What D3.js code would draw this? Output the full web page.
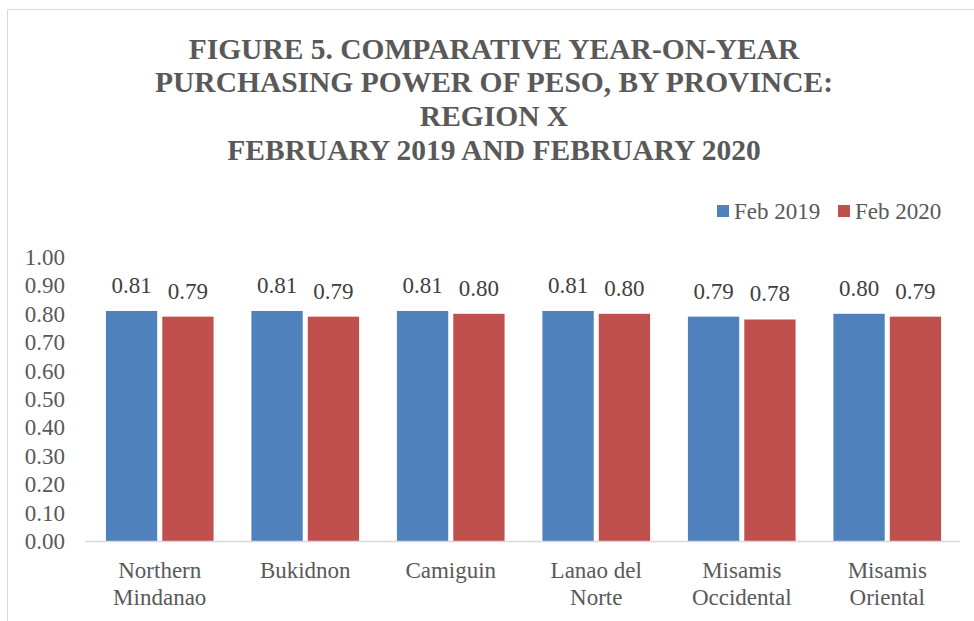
<!DOCTYPE html>
<html>
<head>
<meta charset="utf-8">
<script src="https://cdn.jsdelivr.net/npm/d3@7"></script>
<style>
  body { margin: 0; background: #fff; }
</style>
</head>
<body>
<div id="chart"></div>
<script>
const width = 974;
const height = 621;

const provinces = [
  ["Northern", "Mindanao"],
  ["Bukidnon"],
  ["Camiguin"],
  ["Lanao del", "Norte"],
  ["Misamis", "Occidental"],
  ["Misamis", "Oriental"]
];
const seriesNames = ["Feb 2019", "Feb 2020"];
const feb2019 = [0.81, 0.81, 0.81, 0.81, 0.79, 0.80];
const feb2020 = [0.79, 0.79, 0.80, 0.80, 0.78, 0.79];
const yTicks = [0, 0.1, 0.2, 0.3, 0.4, 0.5, 0.6, 0.7, 0.8, 0.9, 1.0];
const titleLines = [
  "FIGURE 5. COMPARATIVE YEAR-ON-YEAR",
  "PURCHASING POWER OF PESO, BY PROVINCE:",
  "REGION X",
  "FEBRUARY 2019 AND FEBRUARY 2020"
];

const colors = ["#4f81bd", "#c0504d"];
const textColor = "#595959";
const serif = "'Liberation Serif', 'Times New Roman', Times, serif";

const svg = d3.select("#chart")
  .append("svg")
  .attr("width", width)
  .attr("height", height)
  .attr("font-family", serif)
  .style("display", "block");

// chart area frame (cropped on right/bottom)
svg.append("path")
  .attr("d", `M7.5,${height} V9.5 H${width}`)
  .attr("fill", "none")
  .attr("stroke", "#d9d9d9")
  .attr("stroke-width", 1);

// title
svg.append("g")
  .selectAll("text")
  .data(titleLines)
  .join("text")
  .attr("x", 494)
  .attr("y", (d, i) => 58.5 + i * 33.7)
  .attr("text-anchor", "middle")
  .attr("font-size", 29.5)
  .attr("font-weight", "bold")
  .attr("fill", textColor)
  .text(d => d);

const margin = { left: 87, right: 14, top: 257, bottom: 80 };

const x0 = d3.scaleBand()
  .domain(d3.range(provinces.length))
  .range([margin.left, width - margin.right])
  .paddingInner(0.26)
  .paddingOuter(0.13);

const x1 = d3.scaleBand()
  .domain([0, 1])
  .range([0, x0.bandwidth()])
  .paddingInner(0.09);

const y = d3.scaleLinear()
  .domain([0, 1])
  .range([height - margin.bottom, margin.top]);

// y axis
const yAxis = svg.append("g")
  .attr("transform", `translate(${margin.left - 22},0)`)
  .call(d3.axisLeft(y).tickValues(yTicks).tickFormat(d3.format(".2f")).tickSize(0).tickPadding(0));
yAxis.select(".domain").remove();
yAxis.attr("font-family", serif).attr("font-size", 23);
yAxis.selectAll("text")
  .attr("fill", textColor)
  .attr("dy", "0.33em");

// bars
const values = [feb2019, feb2020];
const groups = svg.append("g")
  .selectAll("g")
  .data(provinces.map((p, i) => i))
  .join("g")
  .attr("transform", i => `translate(${x0(i)},0)`);

groups.selectAll("rect")
  .data(i => values.map((s, k) => ({ k, v: s[i] })))
  .join("rect")
  .attr("x", d => x1(d.k))
  .attr("width", x1.bandwidth())
  .attr("y", d => y(d.v))
  .attr("height", d => y(0) - y(d.v))
  .attr("fill", d => colors[d.k]);

groups.selectAll("text.val")
  .data(i => values.map((s, k) => ({ k, v: s[i] })))
  .join("text")
  .attr("class", "val")
  .attr("x", d => x1(d.k) + x1.bandwidth() / 2)
  .attr("y", d => y(d.v) - 18)
  .attr("text-anchor", "middle")
  .attr("font-size", 23)
  .attr("fill", "#404040")
  .text(d => d3.format(".2f")(d.v));

// x axis baseline
svg.append("line")
  .attr("x1", margin.left - 2)
  .attr("x2", width - margin.right)
  .attr("y1", y(0) + 0.5)
  .attr("y2", y(0) + 0.5)
  .attr("stroke", "#d9d9d9")
  .attr("stroke-width", 1.5);

// category labels
const catLabels = svg.append("g")
  .selectAll("text")
  .data(provinces)
  .join("text")
  .attr("x", (d, i) => x0(i) + x0.bandwidth() / 2)
  .attr("y", 578)
  .attr("text-anchor", "middle")
  .attr("font-size", 23)
  .attr("fill", textColor);
catLabels.selectAll("tspan")
  .data(d => d)
  .join("tspan")
  .attr("x", function () { return d3.select(this.parentNode).attr("x"); })
  .attr("dy", (d, i) => i === 0 ? 0 : 26.5)
  .text(d => d);

// legend
const legend = svg.append("g")
  .selectAll("g")
  .data(seriesNames)
  .join("g")
  .attr("transform", (d, i) => `translate(${717 + i * 121},205)`);
legend.append("rect")
  .attr("width", 12)
  .attr("height", 12)
  .attr("fill", (d, i) => colors[i]);
legend.append("text")
  .attr("x", 17)
  .attr("y", 14)
  .attr("font-size", 23)
  .attr("fill", textColor)
  .text(d => d);
</script>
</body>
</html>
